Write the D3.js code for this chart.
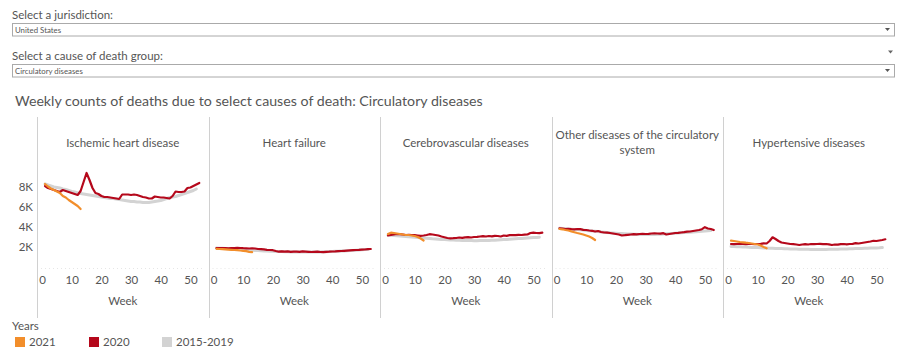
<!DOCTYPE html>
<head>
<meta charset="utf-8">
<script src="https://cdnjs.cloudflare.com/ajax/libs/d3/7.8.5/d3.min.js"></script>
<style>
  html, body { margin: 0; padding: 0; background: #fff; }
  svg { display: block; }
  text { font-family: Lato, "Noto Sans", sans-serif; fill: #555; }
</style>
</head>
<body>
<svg id="chart" width="902" height="358"></svg>
<script>
// panel names
var causes = ["Ischemic heart disease", "Heart failure", "Cerebrovascular diseases",
              ["Other diseases of the circulatory", "system"], "Hypertensive diseases"];
var seriesNames = ["2021", "2020", "2015-2019"];
var seriesColors = ["#f28e2b", "#b5081b", "#d3d3d3"];
var yTicks = [2000, 4000, 6000, 8000];
var xTicks = [0, 10, 20, 30, 40, 50];

// weekly counts, 2020 (weeks 1-53)
var ihd2020 = [8100,7900,7800,7700,7600,7500,7700,7600,7500,7400,7300,7200,7600,8500,9400,8700,7900,7400,7300,7100,7000,7000,6950,6900,6850,6800,7250,7250,7250,7200,7250,7200,7100,7000,6950,6850,6850,7050,7000,6950,6950,6900,6850,7100,7550,7500,7500,7550,7900,7950,8100,8250,8400];
var hf2020 = [1880,1900,1880,1900,1870,1900,1880,1920,1900,1880,1870,1850,1860,1850,1800,1780,1760,1720,1700,1680,1600,1530,1560,1540,1560,1520,1540,1530,1520,1560,1540,1520,1500,1520,1540,1500,1480,1520,1530,1550,1560,1580,1600,1620,1640,1660,1680,1700,1710,1730,1750,1780,1800];
var cbv2020 = [3150,3200,3250,3300,3280,3250,3200,3220,3200,3180,3150,3120,3150,3200,3280,3250,3200,3150,3050,2980,2900,2870,2880,2900,2950,2920,2970,2990,2950,3000,3020,3050,3080,3050,3100,3070,3120,3100,3050,3150,3120,3180,3200,3180,3220,3200,3230,3250,3400,3430,3400,3380,3430];
var oth2020 = [3870,3850,3800,3820,3780,3770,3800,3780,3720,3700,3650,3620,3550,3600,3500,3450,3430,3400,3350,3300,3250,3150,3180,3220,3250,3280,3270,3300,3320,3300,3320,3350,3370,3350,3330,3380,3250,3300,3350,3400,3420,3450,3480,3530,3550,3600,3650,3700,3780,3980,3850,3800,3700];
var hyp2020 = [2300,2280,2300,2320,2300,2290,2310,2300,2280,2300,2320,2370,2350,2600,2970,2800,2600,2450,2400,2350,2300,2280,2250,2200,2250,2280,2250,2300,2280,2300,2320,2290,2300,2260,2200,2250,2230,2280,2300,2270,2300,2320,2380,2350,2400,2450,2500,2550,2620,2600,2650,2700,2770];

// average 2015-2019 (weeks 1-52)
var ihdAvg = [8300,8200,8100,8000,7950,7900,7800,7750,7650,7550,7500,7400,7350,7300,7250,7200,7150,7100,7050,7000,6950,6900,6850,6850,6800,6750,6700,6650,6600,6550,6550,6500,6500,6450,6450,6450,6500,6550,6600,6650,6750,6850,6950,7000,7050,7150,7250,7350,7450,7550,7650,7800];
var hfAvg = [1900,1880,1870,1850,1840,1820,1800,1780,1760,1740,1720,1700,1680,1660,1640,1620,1600,1590,1580,1570,1560,1550,1540,1530,1520,1510,1500,1500,1490,1490,1490,1490,1490,1500,1500,1510,1520,1530,1540,1550,1570,1580,1600,1610,1630,1650,1660,1680,1700,1720,1740,1760];
var cbvAvg = [3200,3180,3150,3120,3100,3080,3050,3020,3000,2980,2950,2920,2900,2880,2850,2820,2800,2780,2760,2740,2720,2700,2690,2680,2670,2660,2650,2640,2640,2630,2630,2640,2640,2650,2660,2670,2680,2700,2720,2740,2760,2780,2800,2820,2840,2860,2880,2900,2920,2940,2960,2980];
var othAvg = [3870,3850,3830,3800,3780,3760,3740,3720,3690,3660,3630,3600,3570,3540,3510,3480,3450,3420,3400,3380,3360,3340,3320,3300,3290,3280,3270,3260,3250,3250,3250,3250,3260,3270,3280,3300,3320,3340,3360,3380,3400,3420,3440,3460,3480,3500,3520,3550,3580,3600,3630,3660];
var hypAvg = [2050,2040,2030,2020,2000,1990,1980,1960,1950,1940,1920,1900,1890,1880,1870,1860,1850,1840,1830,1820,1810,1800,1790,1780,1780,1770,1770,1760,1760,1760,1760,1760,1760,1770,1770,1780,1780,1790,1800,1810,1820,1830,1840,1850,1860,1870,1880,1890,1900,1910,1920,1940];

// 2021 (weeks 1-13)
var ihd2021 = [8300,8050,7850,7700,7550,7400,7100,6950,6700,6500,6300,6100,5800];
var hf2021 = [1820,1800,1780,1760,1740,1720,1700,1680,1650,1620,1580,1520,1480];
var cbv2021 = [3300,3430,3400,3350,3300,3250,3200,3200,3150,3100,3000,2850,2650];
var oth2021 = [3800,3770,3700,3650,3560,3480,3400,3330,3250,3150,3050,2900,2700];
var hyp2021 = [2630,2600,2550,2500,2470,2430,2400,2350,2300,2250,2150,2000,1870];

var panels = [
  [ihd2021, ihd2020, ihdAvg],
  [hf2021, hf2020, hfAvg],
  [cbv2021, cbv2020, cbvAvg],
  [oth2021, oth2020, othAvg],
  [hyp2021, hyp2020, hypAvg]
];

var svg = d3.select("#chart");

// filter controls
function dropdown(label, value, ly, by) {
  svg.append("text").attr("x", 12).attr("y", ly).attr("font-size", 11.5).attr("fill", "#444").text(label);
  svg.append("rect").attr("x", 12.5).attr("y", by + 0.5).attr("width", 882).attr("height", 12.5)
    .attr("fill", "#fff").attr("stroke", "#aaa");
  svg.append("text").attr("x", 15).attr("y", by + 9.5).attr("font-size", 7.8).attr("fill", "#333").text(value);
  svg.append("path").attr("d", "M885," + (by + 5) + "h5l-2.5,3z").attr("fill", "#555");
}
dropdown("Select a jurisdiction:", "United States", 19, 23);
dropdown("Select a cause of death group:", "Circulatory diseases", 60, 64);
svg.append("path").attr("d", "M888,50.5h5l-2.5,3z").attr("fill", "#666");

svg.append("text").attr("x", 15).attr("y", 106).attr("font-size", 14.2).attr("fill", "#555")
  .text("Weekly counts of deaths due to select causes of death: Circulatory diseases");

var panelW = 171.5, left = 37;
var y = d3.scaleLinear().domain([0, 10000]).range([267, 167]);

panels.forEach(function (series, i) {
  var x0 = left + i * panelW;
  var x = d3.scaleLinear().domain([-1.7, 56.1]).range([x0, x0 + panelW]);
  var g = svg.append("g");

  g.append("line").attr("x1", Math.round(x0) + 0.5).attr("x2", Math.round(x0) + 0.5)
    .attr("y1", 117).attr("y2", 318).attr("stroke", "#d0d0d0");

  var name = causes[i];
  var lines = Array.isArray(name) ? name : [name];
  lines.forEach(function (t, k) {
    g.append("text").attr("x", x0 + panelW / 2)
      .attr("y", (lines.length > 1 ? 139 : 147) + k * 15)
      .attr("text-anchor", "middle").attr("font-size", 11.5).text(t);
  });

  // faint baseline ticks
  g.append("line").attr("x1", x0 + 4).attr("x2", x0 + panelW - 4).attr("y1", 268.5).attr("y2", 268.5)
    .attr("stroke", "#e6e6e6").attr("stroke-dasharray", "1,3");

  var xAxis = d3.axisBottom(x).tickValues(xTicks).tickSize(0).tickPadding(0);
  var ax = g.append("g").attr("transform", "translate(0,276)").call(xAxis);
  ax.select(".domain").remove();
  ax.selectAll("text").attr("font-size", 11.5).attr("fill", "#666").attr("dy", "0.71em")
    .style("font-family", "Lato, 'Noto Sans', sans-serif");

  g.append("text").attr("x", x0 + panelW / 2).attr("y", 305).attr("text-anchor", "middle")
    .attr("font-size", 11.5).attr("fill", "#555").text("Week");

  var line = d3.line().x(function (d, j) { return x(j + 1); }).y(function (d) { return y(d); });
  [2, 1, 0].forEach(function (s) {
    g.append("path").datum(series[s]).attr("d", line).attr("fill", "none")
      .attr("stroke", seriesColors[s]).attr("stroke-width", s === 2 ? 3 : 2.2)
      .attr("stroke-linejoin", "round").attr("stroke-linecap", "round");
  });
});

var yAxis = d3.axisLeft(y).tickValues(yTicks).tickSize(0).tickPadding(0)
  .tickFormat(function (d) { return d / 1000 + "K"; });
var ya = svg.append("g").attr("transform", "translate(33,0)").call(yAxis);
ya.select(".domain").remove();
ya.selectAll("text").attr("font-size", 11.5).attr("fill", "#666")
  .style("font-family", "Lato, 'Noto Sans', sans-serif");

// legend
svg.append("text").attr("x", 12).attr("y", 330).attr("font-size", 11.5).attr("fill", "#555").text("Years");
var legX = [15, 89, 162];
seriesNames.forEach(function (n, i) {
  svg.append("rect").attr("x", legX[i]).attr("y", 337).attr("width", 10).attr("height", 10)
    .attr("fill", seriesColors[i]);
  svg.append("text").attr("x", legX[i] + 14).attr("y", 346).attr("font-size", 11.5)
    .attr("fill", "#555").text(n);
});
</script>
</body>
</html>
